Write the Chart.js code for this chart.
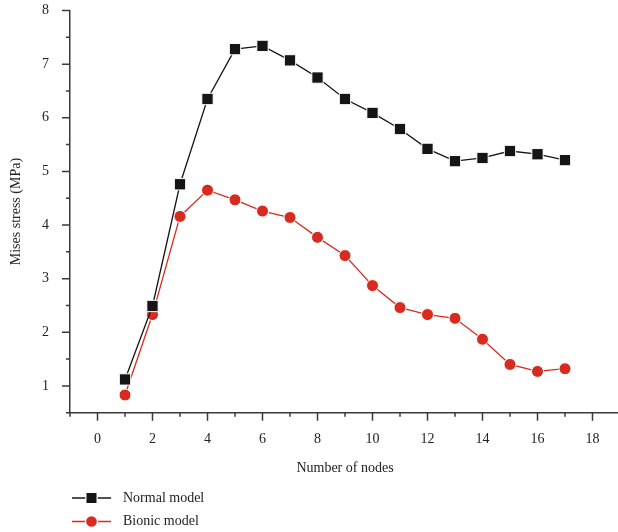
<!DOCTYPE html>
<html>
<head>
<meta charset="utf-8">
<script src="https://cdn.jsdelivr.net/npm/chart.js@4/dist/chart.umd.min.js"></script>
<style>
  html, body { margin: 0; padding: 0; background: #fff; overflow: hidden; }
  canvas { display: block; }
</style>
</head>
<body>
<!-- a bit wider than the window: the line controller reserves ~9px on the right -->
<canvas id="chart" width="629" height="532"></canvas>
<script>
const nodes = [1, 2, 3, 4, 5, 6, 7, 8, 9, 10, 11, 12, 13, 14, 15, 16, 17];
const normalModel = [1.12, 2.49, 4.76, 6.35, 7.28, 7.34, 7.07, 6.75, 6.35, 6.09, 5.79, 5.42, 5.19, 5.25, 5.38, 5.32, 5.21];
const bionicModel = [0.83, 2.33, 4.16, 4.65, 4.47, 4.26, 4.14, 3.77, 3.43, 2.87, 2.46, 2.33, 2.26, 1.87, 1.40, 1.27, 1.32];

const font = "'Liberation Serif', 'DejaVu Serif', serif";
const axisColor = "#3a3a3a";
const textColor = "#222";

// minor + major tick marks and the legend at the bottom left
const extras = {
  id: "extras",
  afterDraw(chart) {
    const ctx = chart.ctx;
    const xs = chart.scales.x;
    const ys = chart.scales.y;
    ctx.save();
    ctx.strokeStyle = axisColor;
    ctx.lineWidth = 1.5;
    ctx.beginPath();
    for (let v = -1; v <= 19; v++) {
      const px = xs.getPixelForValue(v);
      const len = v % 2 === 0 ? 8 : 4;
      ctx.moveTo(px, xs.top);
      ctx.lineTo(px, xs.top + len);
    }
    for (let v = 0.5; v <= 8; v += 0.5) {
      const py = ys.getPixelForValue(v);
      const len = Number.isInteger(v) ? 8 : 4;
      ctx.moveTo(ys.right, py);
      ctx.lineTo(ys.right - len, py);
    }
    ctx.stroke();

    chart.data.datasets.forEach((ds, i) => {
      const y = 498 + i * 23.5;
      ctx.strokeStyle = ds.borderColor;
      ctx.lineWidth = ds.borderWidth;
      ctx.beginPath();
      ctx.moveTo(72, y);
      ctx.lineTo(111, y);
      ctx.stroke();
      ctx.fillStyle = ds.pointBackgroundColor;
      ctx.strokeStyle = ds.pointBorderColor;
      Chart.helpers.drawPoint(ctx, {
        pointStyle: ds.pointStyle,
        radius: ds.pointRadius,
        rotation: 0,
        borderWidth: ds.pointBorderWidth
      }, 91.5, y);
      ctx.fillStyle = textColor;
      ctx.font = "14px " + font;
      ctx.textBaseline = "middle";
      ctx.textAlign = "left";
      ctx.fillText(ds.label, 123, y);
    });
    ctx.restore();
  }
};

new Chart(document.getElementById("chart"), {
  type: "line",
  data: {
    datasets: [
      {
        label: "Normal model",
        data: nodes.map((n, i) => ({ x: n, y: normalModel[i] })),
        borderColor: "#151515",
        borderWidth: 1.3,
        pointStyle: "rect",
        pointRadius: 8,
        pointBackgroundColor: "#151515",
        pointBorderColor: "#ffffff",
        pointBorderWidth: 1,
        tension: 0
      },
      {
        label: "Bionic model",
        data: nodes.map((n, i) => ({ x: n, y: bionicModel[i] })),
        borderColor: "#d82b1f",
        borderWidth: 1.3,
        pointStyle: "circle",
        pointRadius: 6,
        pointBackgroundColor: "#d82b1f",
        pointBorderColor: "#ffffff",
        pointBorderWidth: 1,
        tension: 0
      }
    ]
  },
  options: {
    responsive: false,
    animation: false,
    layout: { padding: { top: 10.5, right: 0, bottom: 0, left: 0 } },
    plugins: {
      legend: { display: false },
      tooltip: { enabled: false }
    },
    scales: {
      x: {
        type: "linear",
        min: -1,
        max: 19,
        afterFit: s => { s.height = 119.3; s.paddingLeft = 0; s.paddingRight = 0; },
        border: { display: true, color: axisColor, width: 1.5 },
        grid: { display: false, drawTicks: false },
        ticks: {
          stepSize: 1,
          autoSkip: false,
          maxRotation: 0,
          padding: 18,
          color: textColor,
          font: { family: font, size: 14 },
          callback: v => (v % 2 === 0 && v >= 0 && v <= 18) ? String(v) : ""
        },
        title: {
          display: true,
          text: "Number of nodes",
          color: textColor,
          font: { family: font, size: 14 },
          padding: { top: 0, bottom: 55 }
        }
      },
      y: {
        min: 0.5,
        max: 8,
        afterFit: s => { s.width = 70; s.paddingTop = 0; s.paddingBottom = 0; },
        border: { display: true, color: axisColor, width: 1.5 },
        grid: { display: false, drawTicks: false },
        ticks: {
          stepSize: 1,
          autoSkip: false,
          padding: 21,
          color: textColor,
          font: { family: font, size: 14 },
          callback: v => Number.isInteger(v) ? String(v) : ""
        },
        title: {
          display: true,
          text: "Mises stress (MPa)",
          color: textColor,
          font: { family: font, size: 14 },
          padding: { top: 8, bottom: 0 }
        }
      }
    }
  },
  plugins: [extras]
});
</script>
</body>
</html>
